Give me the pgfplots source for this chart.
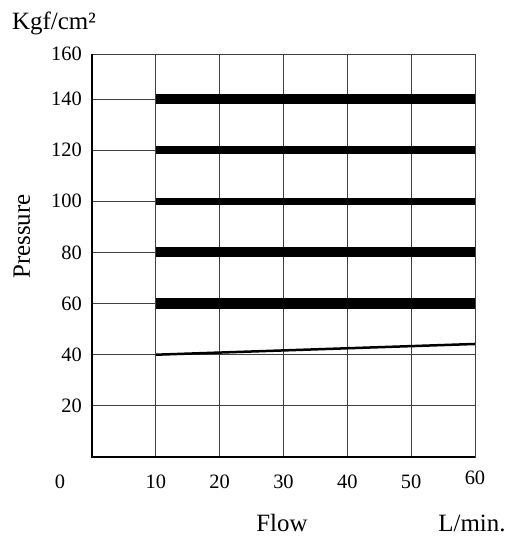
\documentclass[border=0pt]{standalone}
\usepackage{fontspec}
\setmainfont{Liberation Serif}
\usepackage{pgfplots}
\pgfplotsset{compat=1.18}

\begin{document}
\begin{tikzpicture}
\begin{axis}[
    name=ax,
    scale only axis,
    width=383bp, height=403bp,
    xmin=0, xmax=60, ymin=0, ymax=157.6,
    xtick={10,20,30,40,50,60},
    xticklabels={10,20,30,40,50,\raisebox{4bp}{60}},
    ytick={20,40,60,80,100,120,140,157.6},
    yticklabels={20,40,60,80,100,120,140,160},
    major tick length=0pt,
    grid=major,
    major grid style={draw=black!75, line width=0.9bp},
    axis line style={draw=black!75, line width=0.9bp},
    /pgf/number format/assume math mode=true,
    ticklabel style={font=\fontsize{20.5}{23}\selectfont},
    xticklabel style={anchor=base, inner sep=0pt, yshift=-31bp},
    yticklabel style={anchor=east, inner sep=0pt, xshift=-10bp},
]
  % pressure levels, thick bands
  \addplot[black, line width=10.5bp] coordinates {(10,140) (60,140)};
  \addplot[black, line width=7.7bp]  coordinates {(10,120) (60,120)};
  \addplot[black, line width=7bp]    coordinates {(10,100) (60,100)};
  \addplot[black, line width=10bp]   coordinates {(10,80) (60,80)};
  \addplot[black, line width=10.5bp] coordinates {(10,60) (60,60)};
  % thin rising line
  \addplot[black, line width=2.5bp] coordinates {(10,40) (60,44.2)};
\end{axis}

% heavier left and bottom border
\draw[black, line width=2bp] (ax.north west) -- (ax.south west) -- (ax.south east);

\node[anchor=base, inner sep=0pt, font=\fontsize{20.5}{23}\selectfont]
  at ([xshift=-32bp, yshift=-31bp]ax.south west) {0};
\node[anchor=base west, inner sep=0pt, font=\fontsize{25}{28}\selectfont]
  at ([xshift=-80bp, yshift=24bp]ax.north west) {Kgf/cm²};
\node[anchor=base, rotate=90, inner sep=0pt, font=\fontsize{25}{28}\selectfont]
  at ([xshift=-62bp, yshift=19bp]ax.west) {Pressure};
\node[anchor=base, inner sep=0pt, font=\fontsize{25}{28}\selectfont]
  at ([xshift=190bp, yshift=-74bp]ax.south west) {Flow};
\node[anchor=base, inner sep=0pt, font=\fontsize{25}{28}\selectfont]
  at ([xshift=380bp, yshift=-74bp]ax.south west) {L/min.};

\path[use as bounding box] ([xshift=-92bp, yshift=-81bp]ax.south west) rectangle ++(508bp,538bp);
\end{tikzpicture}
\end{document}
